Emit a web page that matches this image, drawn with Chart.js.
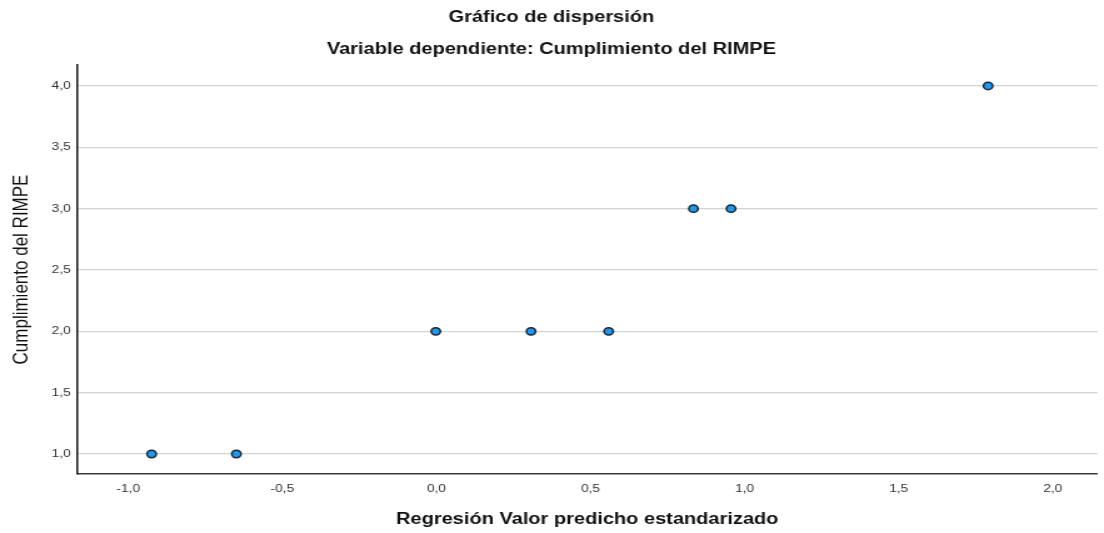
<!DOCTYPE html>
<html lang="es">
<head>
<meta charset="utf-8">
<title>Gráfico de dispersión</title>
<script src="https://cdn.jsdelivr.net/npm/chart.js@4.4.1/dist/chart.umd.min.js"></script>
<style>
    html, body { margin: 0; padding: 0; background: #ffffff; }
    #wrap { width: 1104px; height: 533px; overflow: hidden; }
</style>
</head>
<body>
<!-- la referencia está estirada en horizontal (~1,25x): se dibuja a 883px y se muestra a 1104px -->
<div id="wrap"><canvas id="chart" width="883" height="533" style="display:block;width:1104px;height:533px"></canvas></div>
<script>
const FONT = "'Liberation Sans', Arial, sans-serif";
const INK = '#111111';
const POINT_FILL = '#1f98f2';
const POINT_EDGE = '#1c2833';

const TITLE = 'Gráfico de dispersión';
const SUBTITLE = 'Variable dependiente: Cumplimiento del RIMPE';
const X_TITLE = 'Regresión Valor predicho estandarizado';
const Y_TITLE = 'Cumplimiento del RIMPE';

// valores
const predicted = [-0.924, -0.649, -0.002, 0.307, 0.559, 0.834, 0.956, 1.790];
const compliance = [1, 1, 2, 2, 2, 3, 3, 4];

const X_MIN = -1.166;
const X_MAX = 2.145;
const Y_MIN = 0.837;
const Y_MAX = 4.171;

function commaLabel(value) {
    return Number(value).toFixed(1).replace('.', ',');
}

const points = predicted.map((x, i) => ({ x, y: compliance[i] }));

new Chart(document.getElementById('chart'), {
    type: 'scatter',
    data: {
        datasets: [{
            data: points,
            backgroundColor: POINT_FILL,
            borderColor: POINT_EDGE,
            borderWidth: 1.5,
            pointRadius: 3.7,
            pointHoverRadius: 3.7,
        }],
    },
    options: {
        responsive: false,
        animation: false,
        events: [],
        layout: { padding: { left: 0, right: 1, top: 0, bottom: 0 } },
        plugins: {
            legend: { display: false },
            tooltip: { enabled: false },
            title: {
                display: true,
                text: TITLE,
                color: INK,
                font: { family: FONT, size: 16, weight: 'bold', lineHeight: 1.2 },
                padding: { top: 8.4, bottom: 0 },
            },
            subtitle: {
                display: true,
                text: SUBTITLE,
                color: INK,
                font: { family: FONT, size: 16, weight: 'bold', lineHeight: 1.2 },
                padding: { top: 12.8, bottom: 5.4 },
            },
        },
        scales: {
            x: {
                type: 'linear',
                min: X_MIN,
                max: X_MAX,
                afterFit: (scale) => { scale.height = 59; },
                grid: { display: false, drawTicks: false },
                border: { display: true, color: '#3a3a3a', width: 1.5 },
                ticks: {
                    stepSize: 0.5,
                    includeBounds: false,
                    padding: 8,
                    color: '#333333',
                    font: { family: FONT, size: 11 },
                    callback: commaLabel,
                },
                title: {
                    display: true,
                    text: X_TITLE,
                    color: INK,
                    font: { family: FONT, size: 16, weight: 'bold', lineHeight: 1.2 },
                    padding: { top: 15, bottom: 3.4 },
                },
            },
            y: {
                type: 'linear',
                min: Y_MIN,
                max: Y_MAX,
                afterFit: (scale) => { scale.width = 61.6; },
                grid: { display: true, drawTicks: false, color: '#d2d2d2', lineWidth: 1.2 },
                border: { display: true, color: '#111111', width: 1.5 },
                ticks: {
                    stepSize: 0.5,
                    includeBounds: false,
                    padding: 5,
                    color: '#333333',
                    font: { family: FONT, size: 11 },
                    callback: commaLabel,
                },
                title: {
                    display: true,
                    text: Y_TITLE,
                    color: INK,
                    font: { family: FONT, size: 17, weight: 'normal', lineHeight: 1.2 },
                    padding: { top: 7.4, bottom: 0 },
                },
            },
        },
    },
});
</script>
</body>
</html>
